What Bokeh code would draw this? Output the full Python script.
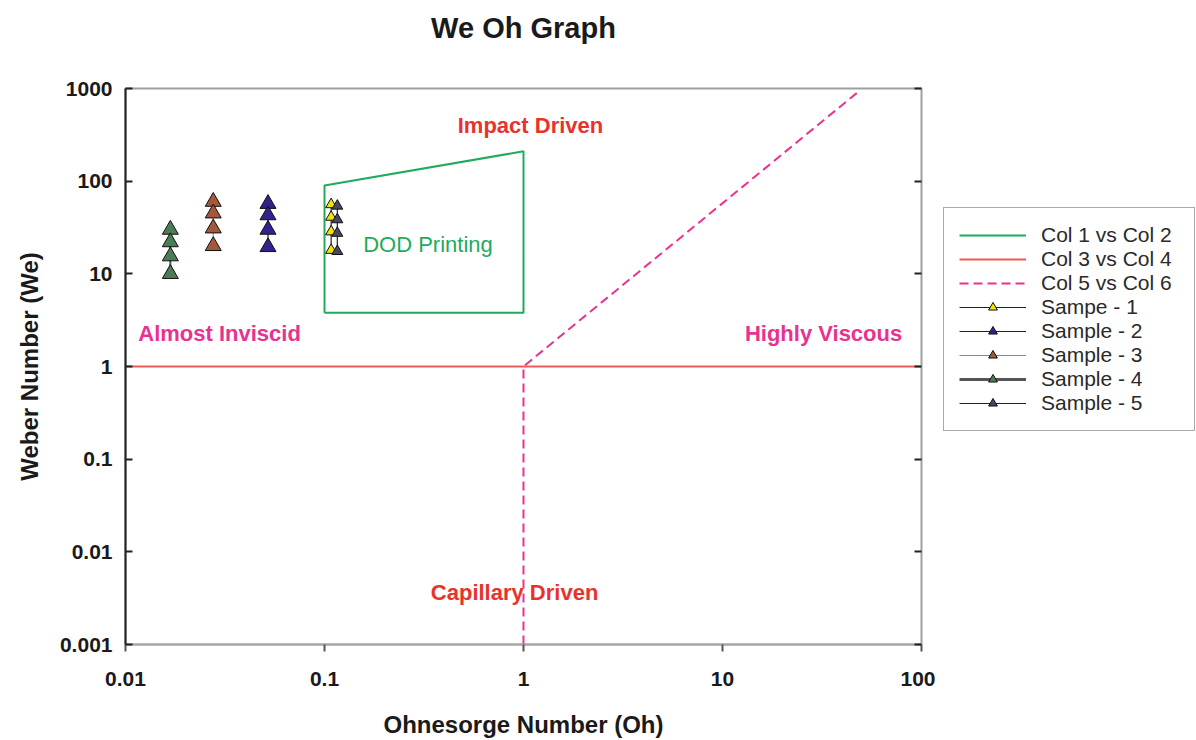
from bokeh.plotting import figure
from bokeh.layouts import row
from bokeh.models import (LogAxis, FixedTicker, CustomJSTickFormatter, Legend,
                          LegendItem, Title)
from bokeh.core.properties import value
from bokeh.embed import file_html
from bokeh.resources import INLINE

# DOD printing window (Col 1 vs Col 2)
col1_oh = [0.1, 0.1, 1.0, 1.0, 0.1]
col2_we = [3.8, 90.0, 210.0, 3.8, 3.8]

# We = 1 boundary (Col 3 vs Col 4)
col3_oh = [0.01, 100.0]
col4_we = [1.0, 1.0]

# capillary / viscous boundary (Col 5 vs Col 6)
col5_oh = [1.0, 1.0, 47.5]
col6_we = [0.001, 1.0, 900.0]

# measured samples
s1_oh = [0.108, 0.108, 0.108, 0.108]
s1_we = [56.0, 41.0, 28.5, 18.0]
s2_oh = [0.052, 0.052, 0.052, 0.052]
s2_we = [57.0, 43.0, 30.0, 19.5]
s3_oh = [0.0276, 0.0276, 0.0276, 0.0276]
s3_we = [60.0, 45.0, 31.0, 20.0]
s4_oh = [0.0168, 0.0168, 0.0168, 0.0168]
s4_we = [30.0, 22.0, 15.5, 10.0]
s5_oh = [0.116, 0.116, 0.116, 0.116]
s5_we = [54.0, 38.5, 27.5, 17.5]

x_ticks = [0.01, 0.1, 1, 10, 100]
y_ticks = [0.001, 0.01, 0.1, 1, 10, 100, 1000]

FONT = "Liberation Sans"
GREEN = "#1faa5c"
RED = "#f05a55"
MAGENTA = "#e8328f"

p = figure(width=935, height=740, x_axis_type="log", y_axis_type="log",
           x_range=(0.01, 100), y_range=(0.001, 1000),
           output_backend="svg", toolbar_location=None,
           min_border_left=125, min_border_right=14,
           min_border_top=88, min_border_bottom=95)
p.background_fill_color = "white"
p.border_fill_color = "white"
p.grid.grid_line_color = None
p.outline_line_color = "#a0a0a0"
p.outline_line_width = 2

# heading set near the top of the canvas; the blank second line keeps
# a gap between it and the frame
p.add_layout(Title(text="We Oh Graph\n ", align="center", vertical_align="top",
                   text_font=FONT, text_font_size="29px",
                   text_font_style="bold", text_color="#1a1a1a",
                   text_line_height=1.2, standoff=10), "above")

fmt = CustomJSTickFormatter(code="return tick.toString();")

xa = p.xaxis[0]
xa.ticker = FixedTicker(ticks=x_ticks)
xa.formatter = fmt
xa.axis_label = "Ohnesorge Number (Oh)"
xa.axis_line_color = "#a8a8a8"
xa.axis_line_width = 2
xa.major_tick_line_color = "#555555"
xa.major_tick_line_width = 2
xa.major_tick_in = 0
xa.major_tick_out = 7
xa.minor_tick_line_color = None
xa.major_label_standoff = 20
xa.axis_label_standoff = 22

ya = p.yaxis[0]
ya.ticker = FixedTicker(ticks=y_ticks)
ya.formatter = fmt
ya.axis_label = "Weber Number (We)"
ya.axis_line_color = "#222222"
ya.axis_line_width = 2
ya.major_tick_line_color = "#222222"
ya.major_tick_line_width = 2
ya.major_tick_in = 7
ya.major_tick_out = 0
ya.minor_tick_line_color = None
ya.major_label_standoff = 13
ya.axis_label_standoff = 14

for ax in (xa, ya):
    ax.major_label_text_font = FONT
    ax.major_label_text_font_size = "21px"
    ax.major_label_text_font_style = "bold"
    ax.major_label_text_color = "#1a1a1a"
    ax.axis_label_text_font = FONT
    ax.axis_label_text_font_size = "24px"
    ax.axis_label_text_font_style = "bold"
    ax.axis_label_text_color = "#1a1a1a"

# tick marks on the right edge, pointing inward
ra = LogAxis(ticker=FixedTicker(ticks=y_ticks), formatter=fmt)
ra.axis_line_color = None
ra.major_tick_line_color = "#222222"
ra.major_tick_line_width = 2
ra.major_tick_in = 7
ra.major_tick_out = 0
ra.minor_tick_line_color = None
ra.major_label_text_color = None
ra.major_label_text_font_size = "1px"
ra.major_label_standoff = 0
p.add_layout(ra, "right")

boundaries = [
    ("Col 1 vs Col 2", col1_oh, col2_we, dict(line_color=GREEN, line_width=2)),
    ("Col 3 vs Col 4", col3_oh, col4_we, dict(line_color=RED, line_width=2)),
    ("Col 5 vs Col 6", col5_oh, col6_we,
     dict(line_color=MAGENTA, line_width=2, line_dash="9 5")),
]
samples = [
    ("Sampe - 1", s1_oh, s1_we, "#f2e400", 11, "#222222", 1.2),
    ("Sample - 2", s2_oh, s2_we, "#35208c", 16, "#222222", 1.2),
    ("Sample - 3", s3_oh, s3_we, "#a3573b", 16, "#8a8a8a", 1.0),
    ("Sample - 4", s4_oh, s4_we, "#4a7d57", 16, "#555555", 3.0),
    ("Sample - 5", s5_oh, s5_we, "#4b4562", 11, "#222222", 1.2),
]

for name, oh, we, style in boundaries:
    p.line(oh, we, **style)
for name, oh, we, color, size, lcol, lw in samples:
    p.line(oh, we, line_color=lcol, line_width=min(lw, 2.0))
    p.scatter(oh, we, marker="triangle", size=size, fill_color=color,
              line_color="#111111", line_width=1)

# region annotations
text_style = dict(text_font=value(FONT), text_font_size="22px",
                  text_align="center", text_baseline="middle")
p.text(x=[1.084], y=[400], text=["Impact Driven"], text_color="#e8332c",
       text_font_style="bold", **text_style)
p.text(x=[0.902], y=[0.00362], text=["Capillary Driven"], text_color="#e8332c",
       text_font_style="bold", **text_style)
p.text(x=[0.0297], y=[2.26], text=["Almost Inviscid"], text_color=MAGENTA,
       text_font_style="bold", **text_style)
p.text(x=[32.2], y=[2.26], text=["Highly Viscous"], text_color=MAGENTA,
       text_font_style="bold", **text_style)
p.text(x=[0.331], y=[20.5], text=["DOD Printing"], text_color=GREEN,
       **text_style)

# legend panel: same series drawn outside its visible range, used as keys
lg = figure(width=261, height=740, x_axis_type="log", y_axis_type="log",
            x_range=(1e6, 1e7), y_range=(1e6, 1e7),
            output_backend="svg", toolbar_location=None,
            x_axis_location=None, y_axis_location=None,
            min_border_left=0, min_border_right=0,
            min_border_top=0, min_border_bottom=0)
lg.grid.grid_line_color = None
lg.outline_line_color = None
lg.background_fill_color = "white"
lg.border_fill_color = "white"

items = []
for name, oh, we, style in boundaries:
    items.append(LegendItem(label=name, renderers=[lg.line(oh, we, **style)]))
for name, oh, we, color, size, lcol, lw in samples:
    rl = lg.line(oh, we, line_color=lcol, line_width=lw)
    rs = lg.scatter(oh, we, marker="triangle", size=size, fill_color=color,
                    line_color="#111111", line_width=1)
    items.append(LegendItem(label=name, renderers=[rl, rs]))

legend = Legend(items=items, location=(8, 213),
                label_text_font=FONT, label_text_font_size="21px",
                label_text_color="#2a2a2a",
                glyph_width=67, glyph_height=22, label_height=22,
                label_width=138,
                label_standoff=15, spacing=0, padding=15, margin=0,
                border_line_color="#555555", border_line_width=1.5,
                background_fill_color="white", background_fill_alpha=1)
lg.add_layout(legend, "center")

layout = row(p, lg)
open("out.html", "w").write(file_html(layout, INLINE))
